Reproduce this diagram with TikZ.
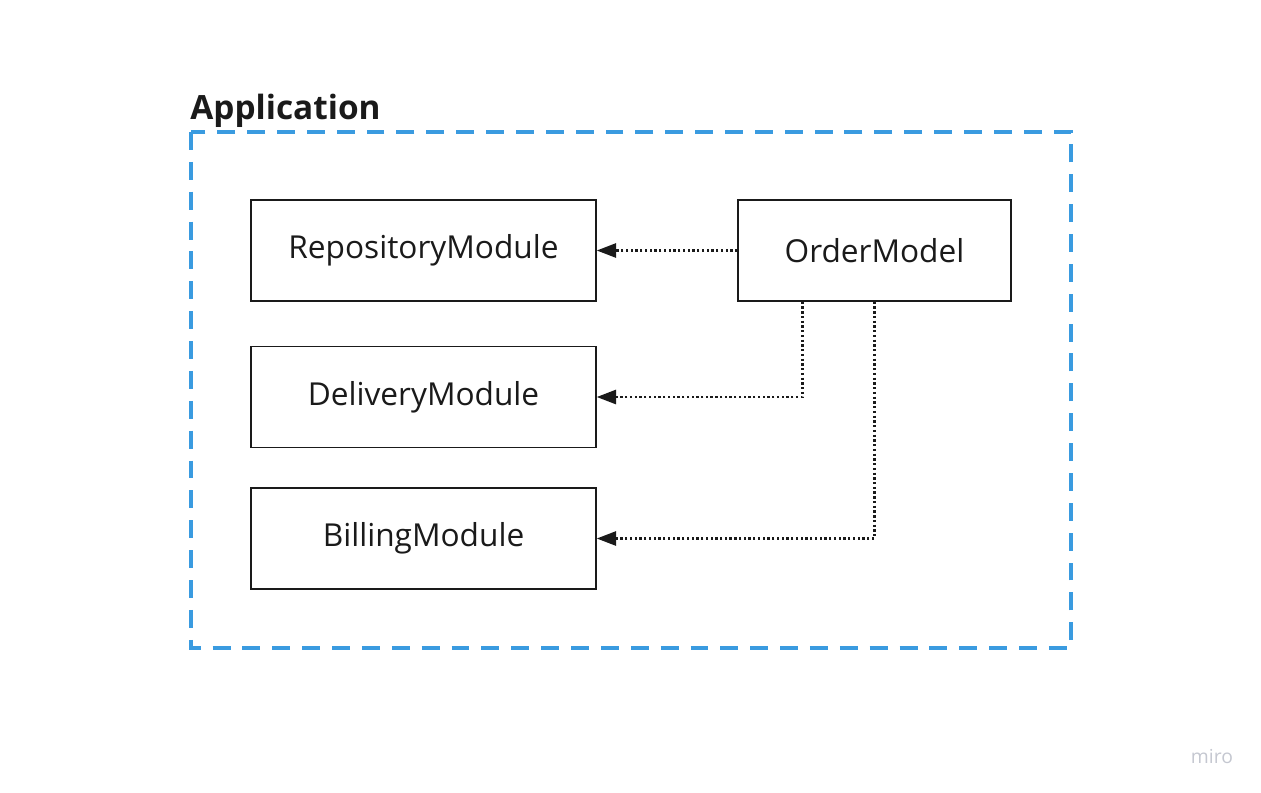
\documentclass[tikz,border=0pt]{standalone}
\usepackage{fontspec}
\setmainfont{Open Sans}
\usetikzlibrary{arrows.meta}
\definecolor{appblue}{HTML}{3A9BE0}
\definecolor{ink}{HTML}{1A1A1A}
\definecolor{logogray}{HTML}{C4C7D0}
\begin{document}
\begin{tikzpicture}[
        x=0.02cm, y=-0.02cm,
        module/.style={rectangle, draw=ink, line width=0.85pt, fill=white,
          minimum width=6.9cm, minimum height=2.02cm,
          text=ink, font=\fontsize{18}{20}\selectfont},
        uses/.style={-{Triangle[length=11pt, width=8pt]}, draw=ink,
          line width=1.4pt, dash pattern=on 1.3pt off 1.4pt}
      ]
      \useasboundingbox (0,0) rectangle (1261,792);

      \draw[appblue, line width=1.9pt, dash pattern=on 10.2pt off 6.8pt]
        (191,132) rectangle (1071,648);
      \node[anchor=base west, inner sep=0pt, text=ink,
        font=\fontsize{19}{22}\selectfont\bfseries] (title) at (190,119) {Application};

      \node[module] (repository) at (423.5,250.5) {RepositoryModule};
      \node[module] (delivery) at (423.5,397) {DeliveryModule};
      \node[module] (billing) at (423.5,538.5) {BillingModule};
      \node[module, minimum width=5.46cm] (order) at (874.5,250.5) {OrderModel};

      \draw[uses] (order.west) -- (repository.east);
      \draw[uses] ([xshift=-1.44cm]order.south) |- (delivery.east);
      \draw[uses] (order.south) |- (billing.east);

      \node[anchor=base, text=logogray, font=\fontsize{11}{12}\selectfont] (logo) at (1212,763) {miro};
    \end{tikzpicture}
\end{document}
